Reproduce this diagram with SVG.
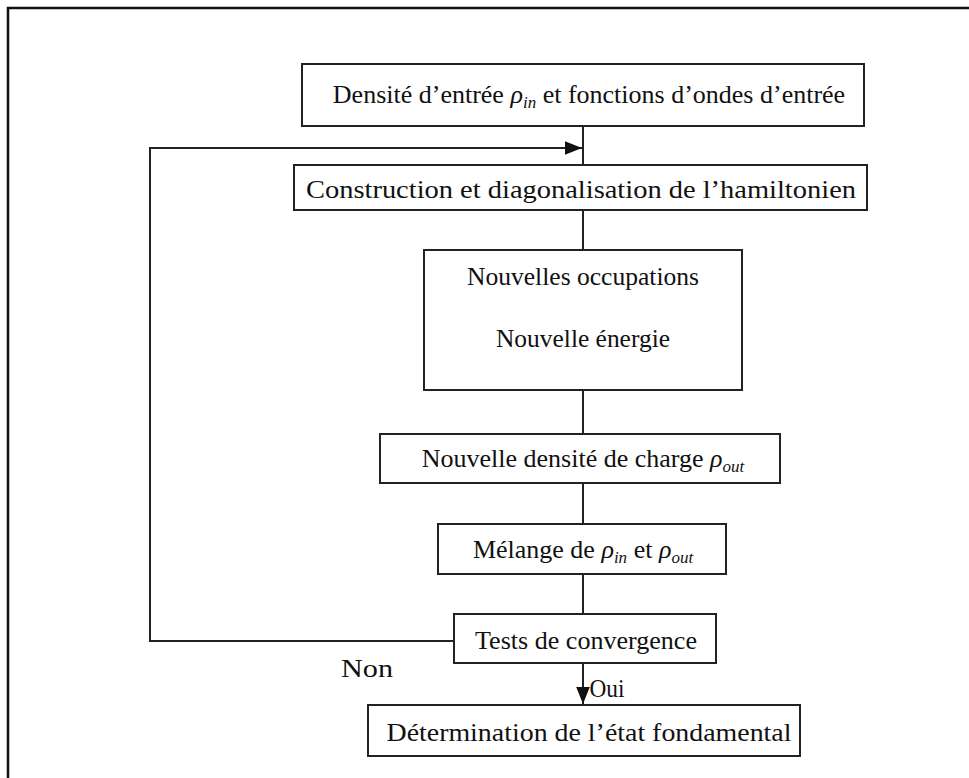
<svg xmlns="http://www.w3.org/2000/svg" width="969" height="778" viewBox="0 0 969 778">
<defs>
<style>
.box{fill:#fff;stroke:#222;stroke-width:2}
.ln{fill:none;stroke:#222;stroke-width:2}
text{font-family:"Liberation Serif","Times New Roman",serif;font-size:26px;fill:#111;text-anchor:middle}
.it{font-style:italic}
.sub{font-style:italic;font-size:17px}
</style>
<marker id="ah2" viewBox="0 0 10 10" refX="10" refY="5" markerWidth="17" markerHeight="17" markerUnits="userSpaceOnUse" orient="auto">
<path d="M0,1 L10,5 L0,9 z" fill="#111"/>
</marker>
</defs>
<rect x="0" y="0" width="969" height="778" fill="#fff"/>
<path d="M8,778 V8 H969" fill="none" stroke="#111" stroke-width="2.5"/>
<g id="connectors">
<line class="ln" x1="583" y1="126" x2="583" y2="165"/>
<path class="ln" d="M454,641 H150 V148 H582" marker-end="url(#ah2)"/>
<line class="ln" x1="583" y1="210" x2="583" y2="250"/>
<line class="ln" x1="583" y1="390" x2="583" y2="434"/>
<line class="ln" x1="583" y1="483" x2="583" y2="524"/>
<line class="ln" x1="583" y1="574" x2="583" y2="614"/>
<line class="ln" x1="583" y1="663" x2="583" y2="704" marker-end="url(#ah2)"/>
<text x="367" y="677" textLength="52" lengthAdjust="spacingAndGlyphs">Non</text>
<text x="607" y="697" textLength="35" lengthAdjust="spacingAndGlyphs">Oui</text>
</g>
<g id="n1">
<rect class="box" x="302" y="64" width="562" height="62"/>
<text x="589" y="103">Densité d’entrée <tspan class="it">ρ</tspan><tspan class="sub" dy="5">in</tspan><tspan dy="-5"> et fonctions d’ondes d’entrée</tspan></text>
</g>
<g id="n2">
<rect class="box" x="294" y="165" width="573" height="45"/>
<text x="581" y="198" textLength="550" lengthAdjust="spacingAndGlyphs">Construction et diagonalisation de l’hamiltonien</text>
</g>
<g id="n3">
<rect class="box" x="424" y="250" width="318" height="140"/>
<text x="583" y="285" textLength="232" lengthAdjust="spacingAndGlyphs">Nouvelles occupations</text>
<text x="583" y="347" textLength="174" lengthAdjust="spacingAndGlyphs">Nouvelle énergie</text>
</g>
<g id="n4">
<rect class="box" x="380" y="434" width="400" height="49"/>
<text x="583" y="467">Nouvelle densité de charge <tspan class="it">ρ</tspan><tspan class="sub" dy="5">out</tspan></text>
</g>
<g id="n5">
<rect class="box" x="438" y="524" width="288" height="50"/>
<text x="583" y="558">Mélange de <tspan class="it">ρ</tspan><tspan class="sub" dy="5">in</tspan><tspan dy="-5"> et </tspan><tspan class="it">ρ</tspan><tspan class="sub" dy="5">out</tspan></text>
</g>
<g id="n6">
<rect class="box" x="454" y="614" width="262" height="49"/>
<text x="586" y="649" textLength="222" lengthAdjust="spacingAndGlyphs">Tests de convergence</text>
</g>
<g id="n7">
<rect class="box" x="368" y="705" width="432" height="51"/>
<text x="589" y="741" textLength="405" lengthAdjust="spacingAndGlyphs">Détermination de l’état fondamental</text>
</g>
</svg>
